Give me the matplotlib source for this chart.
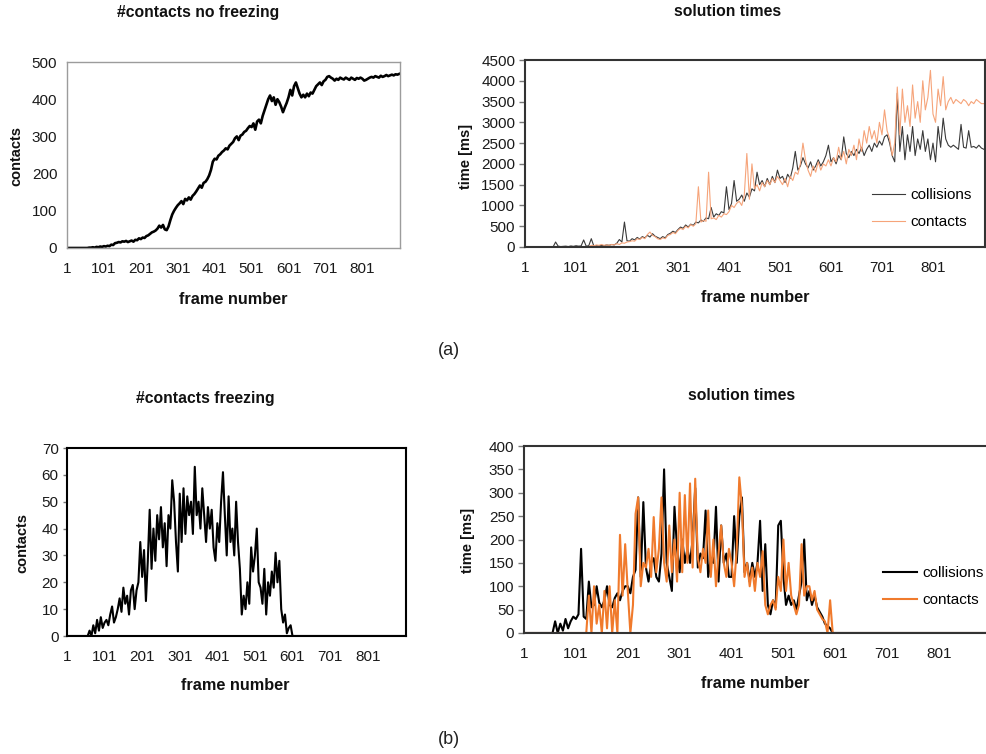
import numpy as np
import matplotlib
matplotlib.use("Agg")
from matplotlib import pyplot as plt

plt.rcParams['font.family'] = ['Liberation Sans', 'DejaVu Sans']

# values sampled every 5 frames, starting at frame 1
# (a) #contacts no freezing
contacts_nofreeze = [
    0, 0, 0, 0, 0, 0, 0, 0, 0, 0,
    0, 0, 1, 1, 2, 1, 3, 2, 4, 3,
    5, 4, 6, 5, 9, 8, 13, 14, 16, 15,
    18, 17, 19, 16, 18, 20, 17, 22, 21, 26,
    24, 28, 27, 32, 34, 38, 42, 44, 47, 52,
    60, 55, 62, 50, 48, 58, 75, 90, 100, 108,
    115, 120, 126, 118, 132, 128, 136, 130, 140, 145,
    152, 160, 168, 162, 175, 178, 185, 195, 210, 232,
    240, 238, 248, 252, 258, 262, 268, 265, 275, 280,
    285, 295, 300, 290, 302, 305, 312, 315, 322, 328,
    325, 335, 318, 340, 345, 335, 355, 370, 385, 400,
    410, 395, 405, 385, 400, 392, 380, 365, 378, 390,
    405, 425, 410, 435, 445, 430, 415, 405, 412, 405,
    415, 408, 418, 415, 425, 435, 440, 445, 438, 448,
    452, 460, 462, 458, 455, 450, 455, 452, 458, 455,
    453, 458, 455, 452, 458, 455, 452, 457, 455, 458,
    455, 450, 452, 455, 458, 460, 458, 462, 460, 458,
    463, 460, 462, 465, 462, 464, 466, 464, 467, 466,
    468,
]

# (a) solution times [ms]
times_a_collisions = [
    0, 0, 0, 0, 0, 0, 0, 0, 0, 0,
    0, 0, 120, 20, 10, 15, 20, 10, 25, 15,
    30, 20, 25, 170, 20, 30, 200, 20, 30, 25,
    40, 30, 50, 40, 60, 50, 90, 180, 120, 600,
    150, 140, 200, 170, 230, 190, 250, 220, 280, 240,
    320, 260, 230, 200, 250, 220, 300, 330, 380, 350,
    420, 480, 450, 530, 480, 550, 520, 600, 580, 650,
    620, 700, 680, 950, 720, 800, 760, 850, 820, 1450,
    900, 1050, 1600, 1100, 1150, 1250, 1100, 1300, 1200, 1400,
    1350, 1800, 1500, 1600, 1450, 1650, 1500, 1700, 1550, 1850,
    1650, 1700, 1550, 1750, 1650, 1900, 2300, 1850, 1950, 2150,
    2000, 1900, 2050, 1850, 1950, 2100, 1950, 2050, 2200, 2450,
    2050, 2150, 2000, 2200, 2100, 2650, 2250, 2150, 2300, 2200,
    2350, 2250, 2400, 2200, 2350, 2450, 2300, 2500, 2400, 2550,
    2450, 2650, 2700, 2500, 2200, 2050, 3700, 2300, 2900, 2100,
    2700, 2300, 2900, 2200, 2600, 2350, 2800, 2300, 2600, 2100,
    2500, 2050, 2900, 2400, 3100, 2600, 2450, 2400, 2450, 2400,
    2350, 2950, 2400, 2380, 2800, 2400, 2420, 2380, 2450, 2380,
    2350,
]
times_a_contacts = [
    0, 0, 0, 0, 0, 0, 0, 0, 0, 0,
    0, 0, 0, 0, 0, 0, 0, 0, 0, 0,
    0, 0, 0, 0, 0, 10, 40, 30, 50, 40,
    60, 40, 50, 40, 60, 50, 80, 60, 100, 90,
    120, 130, 150, 140, 200, 180, 230, 200, 300, 360,
    280, 250, 200, 180, 220, 200, 280, 300, 350, 320,
    400, 450, 420, 500, 460, 540, 500, 560, 1450, 600,
    640, 620, 1800, 680, 700, 660, 760, 720, 800, 780,
    850, 1000, 950, 1050, 1100, 1000, 1250, 2250, 1150, 2000,
    1400, 1500, 1350, 1550, 1450, 1600, 1500, 1650, 1550, 1700,
    1600, 1500, 1650, 1450, 1700, 1600, 1800, 1750, 2000, 2500,
    2100, 1850, 1700, 1950, 1800, 2050, 1850, 2000, 1950, 2100,
    1950, 2150, 2050, 2400, 2100, 2300, 2000, 2350, 2200, 2450,
    2100, 2600, 2300, 2800, 2500, 2900, 2600, 2800, 2500, 3000,
    2700, 3300, 2800, 2600, 2200, 2500, 3850, 2700, 3800, 3000,
    3400, 2900, 3900, 3100, 3500, 3000, 4000, 3300, 3600, 4250,
    3200, 3000, 3800, 3400, 4100, 3300, 3500, 3600, 3450, 3550,
    3500, 3450, 3550, 3500, 3400, 3500, 3450, 3550, 3500, 3450,
    3450,
]

# (b) #contacts freezing
contacts_freeze = [
    0, 0, 0, 0, 0, 0, 0, 0, 0, 0,
    0, 0, 2, 0, 4, 1, 6, 2, 7, 3,
    5, 6, 4, 8, 11, 5, 7, 10, 14, 9,
    18, 12, 15, 8, 17, 19, 10, 17, 20, 35,
    22, 32, 13, 28, 47, 25, 40, 28, 45, 36,
    48, 33, 42, 26, 45, 40, 58, 50, 35, 24,
    53, 35, 55, 38, 52, 45, 50, 38, 63, 45,
    50, 40, 55, 45, 35, 48, 40, 47, 33, 28,
    42, 35, 50, 61, 45, 30, 52, 35, 40, 30,
    50, 35, 25, 8, 15, 10, 20, 12, 33, 24,
    30, 40, 20, 18, 12, 25, 8, 20, 15, 24,
    18, 31, 20, 28, 10, 5, 8, 1, 3, 4,
    0, 0, 0, 0, 0, 0, 0, 0, 0, 0,
    0, 0, 0, 0, 0, 0, 0, 0, 0, 0,
    0, 0, 0, 0, 0, 0, 0, 0, 0, 0,
    0, 0, 0, 0, 0, 0, 0, 0, 0, 0,
    0, 0, 0, 0, 0, 0, 0, 0, 0, 0,
    0, 0, 0, 0, 0, 0, 0, 0, 0, 0,
    0,
]

# (b) solution times [ms]
times_b_collisions = [
    0, 0, 0, 0, 0, 0, 0, 0, 0, 0,
    0, 0, 25, 0, 20, 5, 30, 10, 25, 35,
    30, 40, 180, 35, 30, 110, 55, 60, 100, 65,
    55, 70, 100, 60, 55, 75, 85, 70, 90, 100,
    100, 85, 120, 135, 290, 120, 280, 140, 110, 150,
    160, 120, 110, 170, 350, 150, 120, 90, 270, 180,
    130, 200, 150, 180, 150, 200, 310, 140, 170, 160,
    262, 120, 160, 150, 270, 110, 230, 150, 170, 120,
    120, 250, 150, 250, 290, 130, 150, 110, 150, 120,
    150, 240, 90, 190, 60, 40, 70, 55, 230, 240,
    120, 60, 80, 60, 70, 50, 80, 110, 200, 70,
    90, 60, 80, 55, 45, 35, 20, 15, 10, 0,
    0, 0, 0, 0, 0, 0, 0, 0, 0, 0,
    0, 0, 0, 0, 0, 0, 0, 0, 0, 0,
    0, 0, 0, 0, 0, 0, 0, 0, 0, 0,
    0, 0, 0, 0, 0, 0, 0, 0, 0, 0,
    0, 0, 0, 0, 0, 0, 0, 0, 0, 0,
    0, 0, 0, 0, 0, 0, 0, 0, 0, 0,
    0,
]
times_b_contacts = [
    0, 0, 0, 0, 0, 0, 0, 0, 0, 0,
    0, 0, 0, 0, 0, 0, 0, 0, 0, 0,
    0, 0, 0, 0, 0, 80, 0, 100, 20, 60,
    0, 90, 10, 100, 0, 70, 0, 210, 80, 190,
    90, 0, 60, 255, 290, 100, 150, 140, 180, 120,
    248, 130, 180, 290, 150, 110, 230, 130, 200, 110,
    300, 130, 295, 150, 320, 140, 330, 160, 130, 180,
    150, 262, 120, 200, 100, 170, 230, 150, 120, 180,
    150, 100, 180, 333, 270, 120, 150, 100, 140, 90,
    150, 120, 175, 60, 40, 60, 70, 50, 120, 90,
    200, 90, 150, 80, 60, 40, 60, 190, 80, 100,
    100, 70, 90, 50, 40, 30, 25, 0, 70, 0,
    0, 0, 0, 0, 0, 0, 0, 0, 0, 0,
    0, 0, 0, 0, 0, 0, 0, 0, 0, 0,
    0, 0, 0, 0, 0, 0, 0, 0, 0, 0,
    0, 0, 0, 0, 0, 0, 0, 0, 0, 0,
    0, 0, 0, 0, 0, 0, 0, 0, 0, 0,
    0, 0, 0, 0, 0, 0, 0, 0, 0, 0,
    0,
]

frame_ticks = [1, 101, 201, 301, 401, 501, 601, 701, 801]

W, H = 987, 754
fig = plt.figure(figsize=(W / 100, H / 100), dpi=100)


def frames_of(vals):
    return 1 + 5 * np.arange(len(vals))


def add_ax(l, t, r, b):
    return fig.add_axes([l / W, 1 - b / H, (r - l) / W, (b - t) / H])


def ftext(x, y, s, **kw):
    fig.text(x / W, 1 - y / H, s, **kw)


def style(ax, ymax, ystep, spine_col, spine_lw, ytick_len):
    ax.set_xlim(1, 903)
    ax.set_ylim(0, ymax)
    ax.set_xticks(frame_ticks)
    ax.set_yticks(np.arange(0, ymax + 1, ystep))
    ax.tick_params(axis='x', length=0, pad=10, labelsize=11, colors='#1a1a1a')
    ax.tick_params(axis='y', length=ytick_len, width=1, color='#777777', pad=3,
                   labelsize=11, labelcolor='#1a1a1a', direction='out')
    for s in ax.spines.values():
        s.set_color(spine_col)
        s.set_linewidth(spine_lw)


def legend(ax, x, y):
    ax.legend(loc='center left', bbox_to_anchor=(x, y), frameon=False, fontsize=11,
              handlelength=2.2, handletextpad=0.35, labelspacing=0.85,
              borderpad=0, borderaxespad=0)


# (a) left
ax1 = add_ax(67, 62, 400, 248)
ax1.plot(frames_of(contacts_nofreeze), contacts_nofreeze, color='black', lw=1.9)
style(ax1, 500, 100, '#9c9c9c', 1.0, 0)
ax1.tick_params(axis='y', pad=7)

# (a) right
ax2 = add_ax(525, 60, 985, 247)
ax2.plot(frames_of(times_a_collisions), times_a_collisions, color='#3a3a3a', lw=0.8,
         label='collisions')
ax2.plot(frames_of(times_a_contacts), times_a_contacts, color='#f6a47a', lw=0.8,
         label='contacts')
style(ax2, 4500, 500, '#333333', 1.5, 4)
legend(ax2, 0.754, 0.205)

# (b) left
ax3 = add_ax(67, 448, 406, 636)
ax3.plot(frames_of(contacts_freeze), contacts_freeze, color='black', lw=1.5)
style(ax3, 70, 10, 'black', 1.5, 3)

# (b) right
ax4 = add_ax(524, 446, 992, 633)
ax4.plot(frames_of(times_b_collisions), times_b_collisions, color='black', lw=1.5,
         label='collisions')
ax4.plot(frames_of(times_b_contacts), times_b_contacts, color='#f07a2c', lw=1.5,
         label='contacts')
style(ax4, 400, 50, '#333333', 1.5, 4)
legend(ax4, 0.767, 0.248)

bold = dict(fontweight='bold', ha='center', va='center', color='#111111')
ftext(198, 13, '#contacts no freezing', fontsize=11.3, **bold)
ftext(728, 11, 'solution times', fontsize=11.3, **bold)
ftext(205, 399, '#contacts freezing', fontsize=11.3, **bold)
ftext(742, 396, 'solution times', fontsize=11.3, **bold)

ftext(233, 299, 'frame number', fontsize=11.7, **bold)
ftext(755, 297, 'frame number', fontsize=11.7, **bold)
ftext(235, 686, 'frame number', fontsize=11.7, **bold)
ftext(755, 683, 'frame number', fontsize=11.7, **bold)

ftext(16, 156, 'contacts', fontsize=10.5, rotation=90, **bold)
ftext(466, 156, 'time [ms]', fontsize=10.5, rotation=90, **bold)
ftext(22, 543, 'contacts', fontsize=10.5, rotation=90, **bold)
ftext(468, 540, 'time [ms]', fontsize=10.5, rotation=90, **bold)

ftext(449, 350, '(a)', fontsize=13, ha='center', va='center', color='#222222')
ftext(449, 740, '(b)', fontsize=13, ha='center', va='center', color='#222222')

fig.savefig('out.png', dpi=100)
